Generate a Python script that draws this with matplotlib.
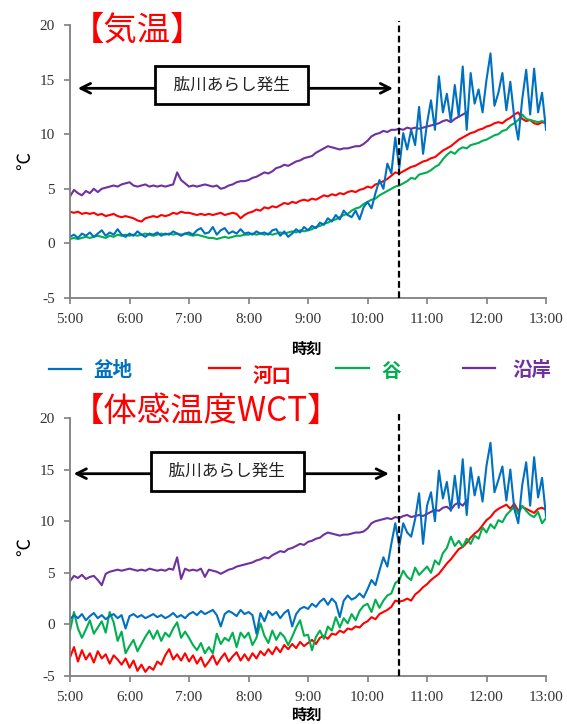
import numpy as np
import matplotlib.pyplot as plt
from matplotlib.lines import Line2D

plt.rcParams['font.family'] = ['Noto Sans CJK JP', 'DejaVu Sans']
plt.rcParams['axes.unicode_minus'] = False

# 4-minute readings from 5:00, one row per hour
# ---- 気温 ----
basin_temp = [0.6, 0.8, 0.5, 0.9, 0.7, 1.0, 0.6, 0.9, 1.2, 0.7, 1.0, 0.8, 1.3, 0.8, 0.6,
              0.9, 0.7, 1.1, 0.8, 0.6, 0.9, 0.8, 1.0, 0.7, 0.9, 0.8, 1.1, 0.9, 0.7, 0.9,
              1.0, 0.8, 1.2, 1.4, 0.9, 1.0, 1.5, 0.8, 1.2, 1.4, 0.9, 1.1, 0.9, 1.3, 0.9,
              1.0, 0.8, 1.1, 0.9, 1.0, 0.8, 1.2, 1.3, 0.7, 1.1, 0.6, 0.9, 1.3, 1.0, 1.5,
              1.2, 1.6, 1.4, 1.9, 1.7, 2.3, 2.0, 2.6, 2.2, 3.0, 2.6, 2.4, 3.0, 2.2, 3.3,
              3.8, 3.2, 4.6, 5.8, 5.0, 7.3, 6.4, 9.7, 6.9, 10.1, 8.6, 10.4, 9.0, 12.5, 8.2,
              11.0, 13.1, 10.4, 15.3, 12.0, 13.7, 11.2, 14.5, 11.6, 16.2, 10.4, 15.6, 12.8, 14.1, 12.0,
              15.0, 17.4, 12.6, 13.8, 15.6, 12.2, 14.8, 11.5, 9.5, 13.2, 15.9, 11.8, 16.0, 12.0, 13.8,
              10.4]
estuary_temp = [2.9, 2.8, 2.9, 2.7, 2.8, 2.7, 2.8, 2.6, 2.7, 2.5, 2.6, 2.7, 2.5, 2.4, 2.5,
                2.4, 2.3, 2.1, 2.0, 2.3, 2.4, 2.5, 2.4, 2.6, 2.5, 2.6, 2.8, 2.7, 2.9, 2.8,
                2.8, 2.7, 2.6, 2.7, 2.6, 2.7, 2.6, 2.7, 2.8, 2.6, 2.7, 2.8, 2.7, 2.3, 2.6,
                2.8, 2.9, 3.1, 3.0, 3.3, 3.2, 3.4, 3.3, 3.5, 3.7, 3.6, 3.8, 3.7, 3.9, 4.0,
                3.9, 4.1, 4.0, 4.2, 4.4, 4.3, 4.5, 4.4, 4.6, 4.5, 4.7, 4.8, 4.7, 4.9, 5.0,
                5.2, 5.1, 5.4, 5.5, 5.7, 5.9, 6.2, 6.5, 6.4, 6.6, 6.8, 7.0, 7.1, 7.3, 7.5,
                7.6, 7.8, 7.9, 8.2, 8.5, 8.7, 8.9, 9.2, 9.5, 9.7, 9.9, 10.1, 10.2, 10.4, 10.5,
                10.7, 10.8, 11.0, 11.1, 11.0, 11.3, 11.5, 11.8, 12.0, 11.4, 11.2, 11.3, 11.0, 10.9, 11.1,
                11.0]
valley_temp = [0.4, 0.5, 0.4, 0.5, 0.6, 0.5, 0.6, 0.7, 0.6, 0.5, 0.7, 0.6, 0.8, 0.7, 0.8,
               0.7, 0.8, 0.7, 0.8, 0.9, 0.8, 0.7, 0.8, 0.9, 0.8, 0.9, 0.8, 0.9, 0.8, 0.9,
               0.8, 0.7, 0.8, 0.7, 0.6, 0.5, 0.5, 0.4, 0.5, 0.6, 0.5, 0.6, 0.7, 0.7, 0.8,
               0.8, 0.9, 0.8, 0.9, 0.8, 0.9, 0.8, 0.9, 1.0, 0.9, 1.0, 1.1, 1.0, 1.2, 1.1,
               1.2, 1.3, 1.5, 1.6, 1.8, 1.9, 2.1, 2.2, 2.4, 2.6, 2.7, 3.0, 3.2, 3.3, 3.6,
               3.8, 4.0, 4.1, 4.4, 4.6, 4.8, 5.0, 5.2, 5.3, 5.5, 5.7, 6.0, 5.9, 6.3, 6.4,
               6.5, 6.7, 7.0, 7.2, 7.7, 8.1, 8.4, 8.2, 8.6, 8.8, 8.7, 9.0, 9.1, 9.2, 9.4,
               9.5, 9.7, 9.9, 10.0, 10.3, 10.4, 10.8, 11.0, 11.3, 11.8, 11.4, 11.3, 11.2, 11.1, 11.2,
               11.1]
coast_temp = [4.3, 4.9, 4.6, 4.4, 4.8, 4.6, 5.0, 4.7, 5.0, 5.1, 5.2, 5.3, 5.2, 5.4, 5.5,
              5.6, 5.3, 5.2, 5.3, 5.4, 5.2, 5.3, 5.2, 5.3, 5.2, 5.3, 5.4, 6.5, 5.8, 5.5,
              5.2, 5.3, 5.2, 5.3, 5.4, 5.3, 5.2, 5.3, 5.0, 5.1, 5.3, 5.4, 5.6, 5.7, 5.7,
              5.8, 6.0, 6.1, 6.3, 6.5, 6.4, 6.6, 6.9, 7.0, 7.2, 7.1, 7.3, 7.5, 7.6, 7.8,
              7.9, 8.0, 8.3, 8.5, 8.7, 8.9, 8.8, 8.7, 8.6, 8.7, 8.7, 8.8, 8.9, 8.9, 9.1,
              9.4, 9.8, 10.0, 10.1, 10.3, 10.2, 10.4, 10.4, 10.5, 10.4, 10.6, 10.5, 10.6, 10.5, 10.6,
              10.7, 10.8, 10.9, 11.0, 11.2, 11.3, 11.1, 11.4, 11.6, 11.8, 12.0]

# ---- 体感温度WCT ----
basin_wct = [0.5, 0.9, 0.6, 1.0, 0.4, 0.8, 1.1, 0.6, 0.9, 0.5, 0.8, 1.0, 0.6, 0.9, -0.4,
             0.8, 1.0, 0.7, 0.9, 0.6, 0.8, 1.0, 0.7, 0.9, 0.6, 0.8, 1.1, 0.7, 0.9, 0.6,
             1.0, 1.2, 0.9, 1.3, 1.0, 1.2, 1.4, 0.9, -0.2, 1.0, 1.3, 1.1, 0.8, 1.4, 1.0,
             1.2, 0.9, -0.9, 1.1, 0.3, 1.3, 0.9, 1.2, 0.6, 1.1, 1.4, -0.2, 1.0, 1.5, 1.7,
             1.5, 2.0, 1.7, 2.2, 2.5, 1.9, 2.5, 2.1, 0.7, 2.3, 2.8, 2.4, 2.6, 3.0, 2.6,
             3.4, 4.3, 3.8, 5.2, 6.5, 5.6, 7.8, 9.8, 7.6, 9.8, 8.9, 8.5, 10.2, 12.7, 7.8,
             11.5, 12.8, 10.0, 14.9, 12.2, 13.8, 11.0, 14.4, 11.3, 16.0, 10.6, 15.2, 12.5, 14.3, 11.9,
             15.4, 17.6, 12.8, 14.0, 15.3, 12.0, 15.0, 11.2, 9.8, 13.5, 15.7, 11.5, 16.2, 12.3, 14.2,
             10.5]
estuary_wct = [-3.2, -2.2, -3.6, -2.5, -3.4, -2.8, -3.7, -2.6, -3.3, -2.9, -3.8, -3.0, -3.4, -3.9, -3.3,
               -4.2, -3.5, -4.5, -3.9, -4.6, -4.1, -4.4, -3.6, -3.9, -3.0, -2.4, -3.4, -2.9, -3.5, -2.8,
               -3.6, -3.0, -3.8, -3.2, -4.1, -3.6, -3.0, -3.9, -3.3, -2.8, -3.6, -3.1, -2.7, -3.5, -2.9,
               -3.5, -2.8, -3.3, -2.6, -3.0, -2.4, -2.9, -2.2, -2.7, -2.0, -2.4, -1.9, -2.3, -1.7, -2.1,
               -1.8, -1.5, -1.9, -1.3, -1.1, -1.4, -0.9, -1.0, -0.6, -0.8, -0.4, -0.5, -0.2, -0.3, 0.1,
               0.3, 0.7, 0.5, 1.0, 1.2, 1.4, 1.7, 2.3, 2.2, 2.3, 2.5, 2.3, 2.9, 3.2, 3.6,
               3.9, 4.3, 4.6, 4.9, 5.4, 5.9, 6.3, 6.8, 7.3, 7.5, 7.9, 8.4, 8.8, 9.1, 9.6,
               10.1, 10.4, 10.9, 11.2, 11.4, 11.6, 11.2, 11.7, 11.0, 11.4, 11.2, 11.0, 10.8, 11.2, 11.3,
               11.1]
valley_wct = [-0.6, 1.2, -0.4, -1.3, -0.5, 0.4, -0.9, -0.3, 0.3, -0.8, 1.2, 0.2, -1.6, -0.7, -2.8,
              -2.1, -1.5, -2.6, -1.9, -1.2, -0.6, -1.4, -0.6, -1.6, -0.8, -1.2, -0.4, 0.2, -1.3, -0.7,
              -1.3, -2.0, -2.5, -1.8, -2.8, -2.2, -2.8, -0.9, -1.9, -1.3, -1.6, -0.8, -2.2, -0.8, -1.3,
              -0.8, -2.0, -1.3, 0.1, -1.1, -1.8, -0.6, -1.5, -0.8, -1.2, -2.0, -1.2, -0.3, 0.4, -1.1,
              -1.0, -2.5, -1.2, -0.6, -1.4, -0.2, -0.6, 0.7, -0.3, 0.6, 0.1, 1.0, 0.4, 1.3, 1.8,
              2.0, 1.2, 2.4, 1.6, 2.3, 2.8, 3.0, 4.0, 4.3, 5.2, 4.6, 4.3, 5.5, 4.8, 5.2,
              5.6, 5.0, 6.2, 5.8, 6.9, 7.4, 8.5, 7.6, 8.1, 7.5, 8.3, 7.8, 8.6, 8.3, 9.4,
              8.9, 9.7, 9.3, 10.1, 9.9, 10.6, 11.0, 11.4, 10.7, 11.5, 11.0, 10.6, 10.4, 10.9, 9.8,
              10.3]
coast_wct = [4.2, 4.7, 4.5, 4.8, 4.4, 4.6, 4.7, 4.3, 3.8, 4.9, 5.1, 5.2, 5.3, 5.2, 5.3,
             5.4, 5.3, 5.2, 5.3, 5.2, 5.4, 5.3, 5.2, 5.3, 5.2, 5.4, 5.3, 6.5, 4.4, 5.4,
             5.2, 5.3, 5.2, 5.4, 4.6, 5.3, 5.2, 5.1, 4.9, 5.1, 5.3, 5.4, 5.6, 5.7, 5.8,
             5.9, 6.0, 6.2, 6.3, 6.5, 6.4, 6.7, 6.9, 7.1, 7.0, 7.3, 7.4, 7.6, 7.8, 7.7,
             8.0, 8.1, 8.3, 8.4, 8.7, 8.9, 8.8, 8.7, 8.6, 8.7, 8.7, 8.8, 8.9, 8.9, 9.0,
             9.3, 9.8, 10.0, 10.1, 10.2, 10.3, 10.2, 10.4, 10.3, 10.5, 10.6, 10.4, 10.5, 10.6, 10.5,
             10.7, 10.9, 11.1, 11.0, 11.3, 11.4, 11.1, 11.6, 11.8, 11.5, 12.0]

hour_labels = ['5:00', '6:00', '7:00', '8:00', '9:00', '10:00', '11:00', '12:00', '13:00']
names = ['盆地', '河口', '谷', '沿岸']
colors = ['#0070C0', '#FF0000', '#00B050', '#7030A0']
event_time = 10.53   # 肱川あらし発生 line

def hours(vals):
    return 5 + np.arange(len(vals)) * 4 / 60.0

fig = plt.figure(figsize=(5.67, 7.24), dpi=100)
ax1 = fig.add_axes([0.1235, 0.5884, 0.8395, 0.3771])
ax2 = fig.add_axes([0.1235, 0.0663, 0.8395, 0.3564])

panels = [
    (ax1, [basin_temp, estuary_temp, valley_temp, coast_temp], (5.13, 10.43, 14.2), (7.71, 14.5)),
    (ax2, [basin_wct, estuary_wct, valley_wct, coast_wct], (5.06, 10.36, 14.6), (7.64, 14.8)),
]

for ax, series, arr, box in panels:
    # draw coast first, basin on top
    for k in [3, 1, 2, 0]:
        ax.plot(hours(series[k]), series[k], color=colors[k], lw=1.5)
    ax.set_xlim(5, 13)
    ax.set_ylim(-5, 20)
    ax.set_xticks(range(5, 14))
    ax.set_xticklabels(hour_labels)
    ax.set_yticks([-5, 0, 5, 10, 15, 20])
    for s in ['top', 'right']:
        ax.spines[s].set_visible(False)
    for s in ['left', 'bottom']:
        ax.spines[s].set_color('#7f7f7f')
        ax.spines[s].set_linewidth(1.3)
    ax.tick_params(colors='#7f7f7f', length=4, width=1.2, pad=7)
    for lab in ax.get_xticklabels() + ax.get_yticklabels():
        lab.set_fontfamily('Liberation Serif')
        lab.set_fontsize(11)
        lab.set_color('#333333')
    ax.vlines(event_time, -5, 20.4, colors='k', linestyles=(0, (3, 1.6)), lw=1.6,
              clip_on=False, zorder=6)
    ax.annotate('', xy=(arr[0], arr[2]), xytext=(arr[1], arr[2]),
                arrowprops=dict(arrowstyle='<->,head_length=0.7,head_width=0.35',
                                lw=2, color='k', shrinkA=0, shrinkB=0))
    ax.text(box[0], box[1], '  肱川あらし発生  ', ha='center', va='center', fontsize=12,
            color='#222222', zorder=7,
            bbox=dict(boxstyle='square,pad=0.65', fc='white', ec='black', lw=2))
    ax.set_ylabel('℃', fontsize=13, labelpad=4, rotation=90)

fig.text(0.125, 0.958, '【気温】', color='#FF0000', fontsize=24, ha='left', va='center')
fig.text(0.125, 0.432, '【体感温度WCT】', color='#FF0000', fontsize=24, ha='left', va='center')

fig.text(0.54, 1 - 349 / 724, '時刻', fontsize=11, fontweight='bold', ha='center', va='center')
fig.text(0.54, 0.001, '時刻', fontsize=11, fontweight='bold', ha='center', va='bottom')

# legend row between the two panels
leg = [(49, 81, 369, 93, 370), (209, 240, 368, 253, 376), (336, 369, 368, 381, 372),
       (463, 495, 368, 512, 370)]
W, H = 567.0, 724.0
for k, (x0, x1, yl, xt, yt) in enumerate(leg):
    fig.add_artist(Line2D([x0 / W, x1 / W], [1 - yl / H, 1 - yl / H], color=colors[k], lw=1.6))
    fig.text(xt / W, 1 - yt / H, names[k], color=colors[k], fontsize=14, fontweight='bold',
             ha='left', va='center')

fig.savefig('out.png', dpi=100)
